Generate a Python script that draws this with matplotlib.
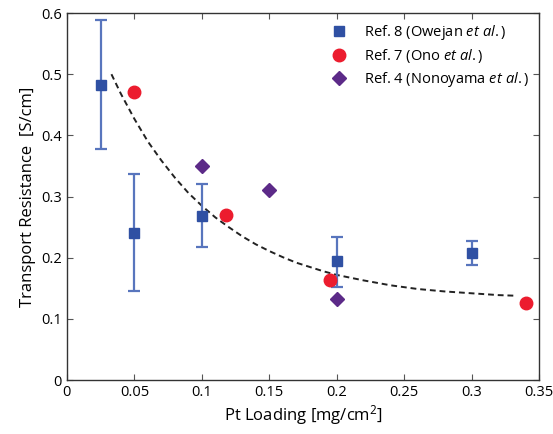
import numpy as np
import matplotlib
matplotlib.use("Agg")
import matplotlib.pyplot as plt

plt.rcParams["font.family"] = ["Open Sans", "DejaVu Sans"]
plt.rcParams["mathtext.fontset"] = "custom"
plt.rcParams["mathtext.rm"] = "Open Sans"
plt.rcParams["mathtext.it"] = "Open Sans:italic"

# Ref. 8 (Owejan) - squares with error bars
owejan_x = [0.025, 0.05, 0.10, 0.20, 0.30]
owejan_y = [0.483, 0.241, 0.269, 0.194, 0.208]
owejan_lo = [0.378, 0.145, 0.218, 0.153, 0.189]
owejan_hi = [0.589, 0.337, 0.321, 0.234, 0.228]

# Ref. 7 (Ono) - circles
ono_x = [0.05, 0.118, 0.195, 0.340]
ono_y = [0.471, 0.270, 0.164, 0.126]

# Ref. 4 (Nonoyama) - diamonds
nono_x = [0.10, 0.15, 0.20]
nono_y = [0.350, 0.311, 0.132]

# dashed trend line
trend_x = [0.033, 0.04, 0.05, 0.06, 0.07, 0.08, 0.09, 0.10, 0.11, 0.12,
           0.13, 0.14, 0.15, 0.16, 0.17, 0.18, 0.19, 0.20, 0.22, 0.24,
           0.26, 0.28, 0.30, 0.32, 0.333]
trend_y = [0.500, 0.468, 0.427, 0.390, 0.359, 0.331, 0.306, 0.285, 0.266, 0.250,
           0.235, 0.222, 0.211, 0.201, 0.192, 0.185, 0.178, 0.172, 0.163, 0.155,
           0.149, 0.145, 0.142, 0.139, 0.138]

blue = "#2f50a3"
blue_err = "#5875bd"
red = "#ec1c2e"
purple = "#5c2a88"

fig = plt.figure(figsize=(5.53, 4.34), dpi=100)
ax = fig.add_axes([0.121, 0.124, 0.854, 0.846])

ax.plot(trend_x, trend_y, linestyle=(0, (3, 2)), color="#222222", linewidth=1.4)

yerr = np.array([np.array(owejan_y) - np.array(owejan_lo),
                 np.array(owejan_hi) - np.array(owejan_y)])
ax.errorbar(owejan_x, owejan_y, yerr=yerr, fmt="none", ecolor=blue_err,
            elinewidth=1.6, capsize=4, capthick=1.6)
ax.plot(owejan_x, owejan_y, "s", color=blue, markersize=7,
        label=r"Ref. 8 (Owejan $\it{et\ al.}$)")
ax.plot(ono_x, ono_y, "o", color=red, markersize=9,
        label=r"Ref. 7 (Ono $\it{et\ al.}$)")
ax.plot(nono_x, nono_y, "D", color=purple, markersize=7,
        label=r"Ref. 4 (Nonoyama $\it{et\ al.}$)")

ax.set_xlim(0, 0.35)
ax.set_ylim(0, 0.6)
ax.set_xticks([0, 0.05, 0.1, 0.15, 0.2, 0.25, 0.3, 0.35])
ax.set_xticklabels(["0", "0.05", "0.1", "0.15", "0.2", "0.25", "0.3", "0.35"])
ax.set_yticks([0, 0.1, 0.2, 0.3, 0.4, 0.5, 0.6])
ax.set_yticklabels(["0", "0.1", "0.2", "0.3", "0.4", "0.5", "0.6"])
ax.tick_params(direction="in", top=True, right=True, labelsize=10.5, length=4,
               color="#555555")
for s in ax.spines.values():
    s.set_color("#333333")
    s.set_linewidth(1.0)

ax.set_xlabel(r"Pt Loading [mg/cm$^2$]", fontsize=12, labelpad=2)
ax.set_ylabel("Transport Resistance  [S/cm]", fontsize=12)

ax.legend(loc="upper right", frameon=False, numpoints=1, fontsize=10.5,
          handletextpad=0.9, borderaxespad=0.3, labelspacing=0.35,
          handlelength=1.6)

fig.savefig("out.png", dpi=100)
